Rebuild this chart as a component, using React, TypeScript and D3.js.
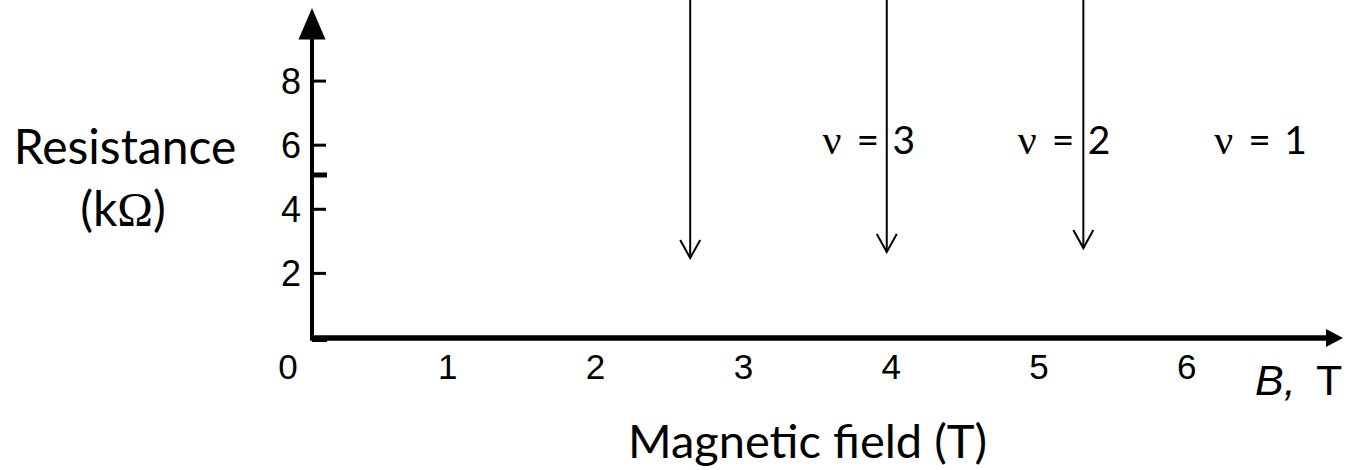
import React from "react";
import * as d3 from "d3";

// Quantum Hall sketch: resistance axis vs magnetic field, with filling-factor markers.
const xTickValues = [0, 1, 2, 3, 4, 5, 6];
const yTickValues = [2, 4, 6, 8];
const extraYTick = 5.07;

// Downward arrows: field position (T) and the resistance (kΩ) where each arrow ends
const arrowField = [2.64, 3.97, 5.3];
const arrowTipResistance = [2.48, 2.67, 2.79];

// Filling-factor labels
const nuLevels = ["3", "2", "1"];
const nuField = [3.84, 5.16, 6.49];
const nuResistance = 5.73;

const W = 1358;
const H = 470;

const sansTitle = "Lato, 'Open Sans', sans-serif";
const sansTick = "'Liberation Sans', Arial, sans-serif";
const serif = "'Liberation Serif', 'Times New Roman', serif";

export default function App() {
  const x = d3.scaleLinear().domain([0, 7]).range([300, 300 + 147.8 * 7]);
  const y = d3.scaleLinear().domain([0, 10.28]).range([337.5, 8]);

  const axisX = 312; // where the vertical axis stands
  const xAxisEnd = 1343;
  const y0 = 338;

  const arrowHalf = 10;
  const arrowLen = 18;

  return (
    <svg
      width={W}
      height={H}
      viewBox={`0 0 ${W} ${H}`}
      style={{ position: "absolute", left: 0, top: 0, background: "#fff" }}
    >
      <rect width={W} height={H} fill="#fff" />

      {/* vertical axis with filled arrowhead */}
      <line x1={axisX} x2={axisX} y1={y0 + 2} y2={y(9.4)} stroke="#000" strokeWidth={4} />
      <path
        d={`M${axisX},${y(10.28)} L${axisX - 13.5},${y(9.3)} L${axisX + 13.5},${y(9.3)} Z`}
        fill="#000"
      />

      {/* horizontal axis with filled arrowhead */}
      <line x1={axisX - 2} x2={xAxisEnd - 14} y1={y0} y2={y0} stroke="#000" strokeWidth={5.5} />
      <path
        d={`M${xAxisEnd},${y0} L${xAxisEnd - 17},${y0 - 9} L${xAxisEnd - 17},${y0 + 9} Z`}
        fill="#000"
      />
      <line x1={axisX} x2={axisX + 15} y1={y0 + 2} y2={y0 + 2} stroke="#000" strokeWidth={4} />

      {/* y ticks and labels */}
      {yTickValues.map((v) => (
        <g key={`yt${v}`}>
          <line x1={axisX} x2={axisX + 14} y1={y(v)} y2={y(v)} stroke="#000" strokeWidth={3} />
          <text
            x={axisX - 11}
            y={y(v) + 13}
            textAnchor="end"
            fontFamily={sansTick}
            fontSize={36}
            fill="#000"
          >
            {v}
          </text>
        </g>
      ))}
      <line
        x1={axisX}
        x2={axisX + 15}
        y1={y(extraYTick)}
        y2={y(extraYTick)}
        stroke="#000"
        strokeWidth={5}
      />

      {/* x tick labels */}
      {xTickValues.map((v) => (
        <text
          key={`xt${v}`}
          x={x(v) + (v === 0 ? -12 : 0)}
          y={379}
          textAnchor="middle"
          fontFamily={sansTick}
          fontSize={35}
          fill="#000"
        >
          {v}
        </text>
      ))}

      {/* axis unit at the end of the field axis */}
      <text y={395} fontFamily={sansTick} fontSize={43} fill="#000">
        <tspan x={1255} fontStyle="italic">B,</tspan>
        <tspan x={1316}>T</tspan>
      </text>

      {/* downward arrows from above the plot */}
      {arrowField.map((b, i) => {
        const cx = x(b);
        const ty = y(arrowTipResistance[i]);
        return (
          <g key={`ar${i}`} stroke="#000" strokeWidth={2} fill="none">
            <line x1={cx} x2={cx} y1={-5} y2={ty} />
            <path
              d={`M${cx - arrowHalf},${ty - arrowLen} L${cx},${ty} L${cx + arrowHalf},${ty - arrowLen}`}
            />
          </g>
        );
      })}

      {/* filling-factor labels */}
      {nuLevels.map((lvl, i) => {
        const cx = x(nuField[i]);
        const by = y(nuResistance);
        return (
          <text key={`nu${lvl}`} y={by} fontSize={39} fill="#000">
            <tspan x={cx - 45} fontFamily={serif} fontSize={42}>
              ν
            </tspan>
            <tspan x={cx - 11} fontFamily={sansTitle}>
              =
            </tspan>
            <tspan x={cx + 25} fontFamily={sansTitle}>
              {lvl}
            </tspan>
          </text>
        );
      })}

      {/* axis titles */}
      <text x={125} y={164} textAnchor="middle" fontFamily={sansTitle} fontSize={48} fill="#000">
        Resistance
      </text>
      <text x={123} y={226} textAnchor="middle" fontFamily={sansTitle} fontSize={48} fill="#000">
        (k<tspan fontFamily={serif} fontSize={48}>Ω</tspan>)
      </text>
      <text x={628} y={458} fontFamily={sansTitle} fontSize={47} fill="#000">
        Magnetic field (T)
      </text>
    </svg>
  );
}
